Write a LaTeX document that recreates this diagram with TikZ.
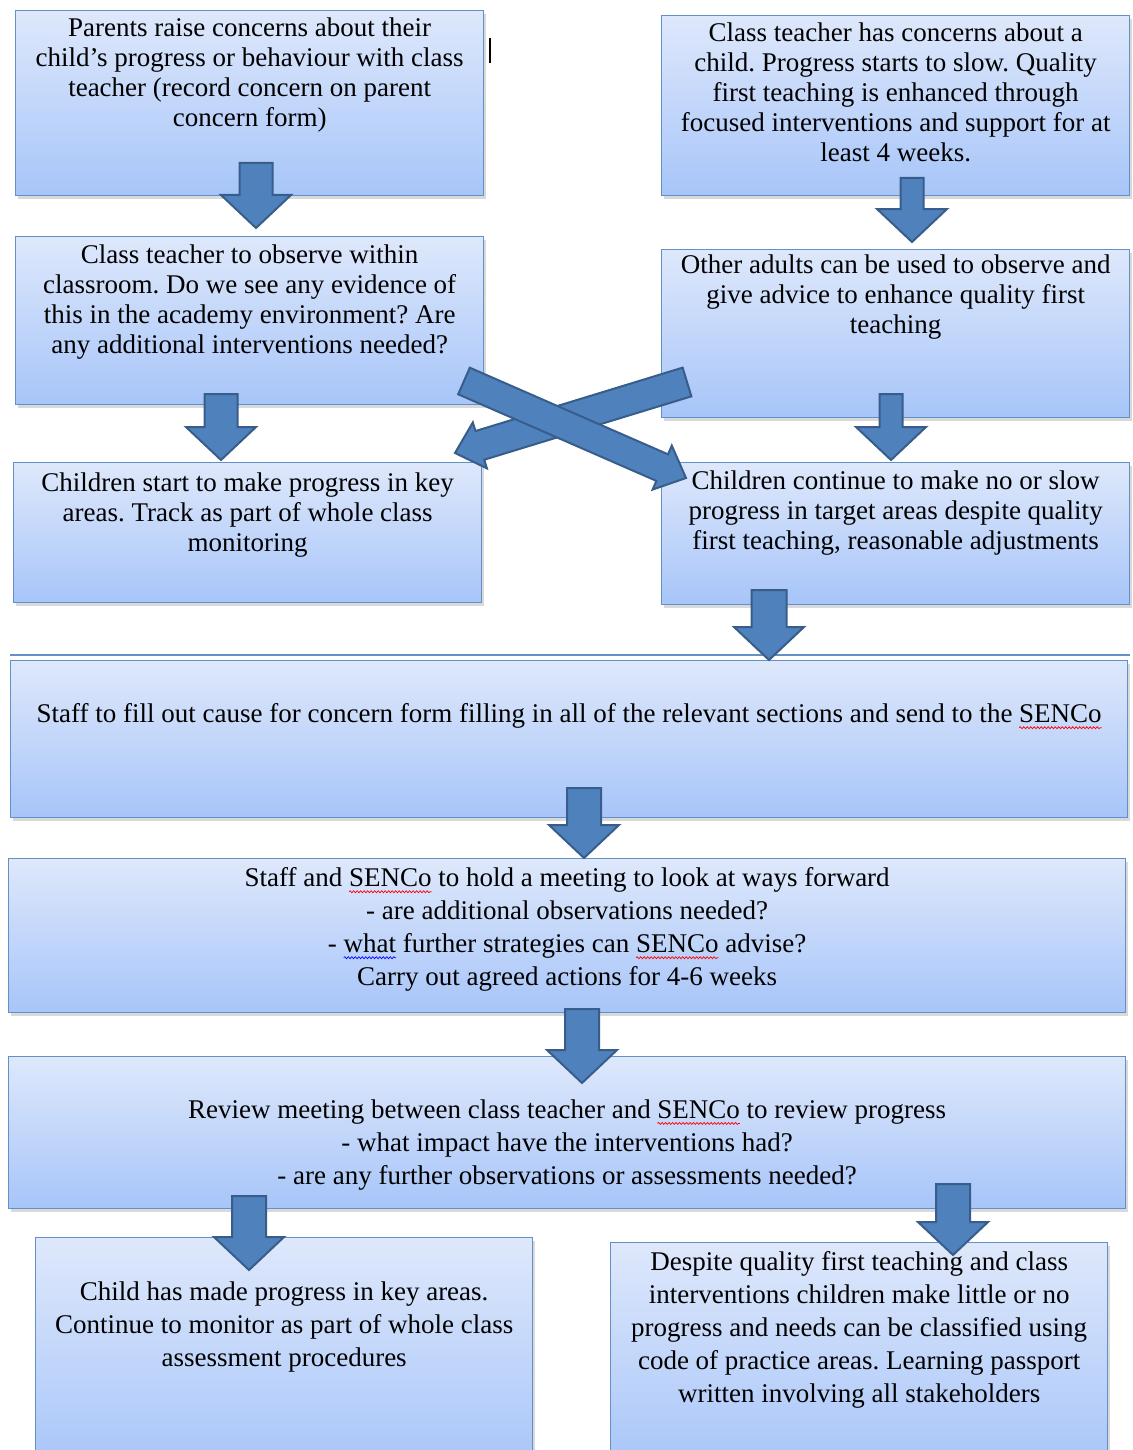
\documentclass[tikz,border=0pt]{standalone}
\usepackage{fontspec}
\setmainfont{Liberation Serif}
\usetikzlibrary{calc,positioning,shadows,decorations.pathmorphing}
\frenchspacing

\definecolor{boxtop}{HTML}{DEE8FB}
\definecolor{boxbot}{HTML}{A7C5F9}
\definecolor{boxedge}{HTML}{6490C8}
\definecolor{arrowfill}{HTML}{4F81BD}
\definecolor{arrowedge}{HTML}{385D8A}

% spell checker marks
\newcommand{\wavy}[2]{\setbox0\hbox{#2}\rlap{\tikz[overlay, baseline=0pt, x=1pt, y=1pt]
  \draw[#1, line width=0.7pt, decorate, decoration={snake, amplitude=1pt, segment length=3.5pt}]
  (0,-5) -- (\the\wd0,-5);}\box0\relax}
\newcommand{\redwave}[1]{\wavy{red}{#1}}
\newcommand{\bluewave}[1]{\wavy{blue}{#1}}

% block arrow: [shaft half width]{tail}{tip}
\newcommand{\headhalf}{35pt}
\newcommand{\headlen}{33pt}
\newcommand{\bigarrow}[3][17pt]{%
  \coordinate (hb) at ($(#3)!\headlen!(#2)$);
  \draw[blockarrow] ($(#2)!#1!90:(#3)$) -- ($(hb)!#1!-90:(#2)$)
    -- ($(hb)!\headhalf!-90:(#2)$) -- (#3) -- ($(hb)!\headhalf!90:(#2)$)
    -- ($(hb)!#1!90:(#2)$) -- ($(#2)!#1!-90:(#3)$) -- cycle;
}

\begin{document}
\begin{tikzpicture}[x=1pt, y=-1pt,
    box/.style = {draw=boxedge, line width=1.3pt, top color=boxtop, bottom color=boxbot,
                  drop shadow={shadow xshift=2pt, shadow yshift=-3pt, opacity=.3},
                  anchor=north west, inner sep=0pt},
    txt/.style = {align=center, inner sep=0pt, anchor=north, font=\fontsize{27}{30}\selectfont},
    txtb/.style = {txt, font=\fontsize{27}{33}\selectfont},
    blockarrow/.style = {fill=arrowfill, draw=arrowedge, line width=2pt, line join=miter}]
  \useasboundingbox (0,0) rectangle (1132,1450);

  \node[box, minimum width=468pt, minimum height=185pt] (parents) at (15,10) {};
  \node[box, minimum width=468pt, minimum height=180pt] (concern) at (661,15) {};
  \node[box, minimum width=468pt, minimum height=168pt] (observe) at (15,236) {};
  \node[box, minimum width=468pt, minimum height=168pt] (adults)  at (661,249) {};
  \node[box, minimum width=468pt, minimum height=140pt] (progress) at (13,462) {};
  \node[box, minimum width=468pt, minimum height=142pt] (slow)    at (661,462) {};
  \node[box, minimum width=1117pt, minimum height=157pt] (form)   at (10,660) {};
  \node[box, minimum width=1117pt, minimum height=154pt] (meeting) at (8,858) {};
  \node[box, minimum width=1117pt, minimum height=152pt] (review) at (8,1056) {};
  \node[box, minimum width=497pt, minimum height=233pt] (monitor) at (35,1237) {};
  \node[box, minimum width=497pt, minimum height=228pt] (passport) at (610,1242) {};

  \draw[boxedge, line width=1.3pt] (10,655) -- (1130,655);
  \draw[line width=1.5pt] (490,38) -- (490,63);

  \foreach \x/\ya/\yb/\w [count=\i] in {256/163/228/16.5, 912/178/242/11.5, 221/394/460/16.5,
      891/394/460/11.5, 769/590/660/17.5, 584/788/858/17, 582/1009/1083/17,
      249/1196/1270/17, 953/1184/1255/17} {
    \coordinate (a\i-s) at (\x,\ya);
    \coordinate (a\i-e) at (\x,\yb);
    \bigarrow[\w pt]{a\i-s}{a\i-e}
  }

  % crossing arrows
  \begin{scope}
    \renewcommand{\headhalf}{24pt}
    \renewcommand{\headlen}{26pt}
    \coordinate (x2-s) at (687,382);
    \coordinate (x2-e) at (455,453);
    \coordinate (x1-s) at (464,381);
    \coordinate (x1-e) at (686,478);
    \bigarrow[15pt]{x2-s}{x2-e}
    \bigarrow[14.5pt]{x1-s}{x1-e}
  \end{scope}

  \node[txt, below=7.5pt of parents.north] (parents-t)
    {Parents raise concerns about their\\child’s progress or behaviour with class\\teacher (record concern on parent\\concern form)};
  \node[txt, below=7.5pt of concern.north] (concern-t)
    {Class teacher has concerns about a\\child. Progress starts to slow. Quality\\first teaching is enhanced through\\focused interventions and support for at\\least 4 weeks.};
  \node[txt, below=8.5pt of observe.north] (observe-t)
    {Class teacher to observe within\\classroom. Do we see any evidence of\\this in the academy environment? Are\\any additional interventions needed?};
  \node[txt, below=5.5pt of adults.north] (adults-t)
    {Other adults can be used to observe and\\give advice to enhance quality first\\teaching};
  \node[txt, below=11pt of progress.north] (progress-t)
    {Children start to make progress in key\\areas. Track as part of whole class\\monitoring};
  \node[txt, below=8.5pt of slow.north] (slow-t)
    {Children continue to make no or slow\\progress in target areas despite quality\\first teaching, reasonable adjustments};
  \node[txt, below=43.5pt of form.north] (form-t)
    {Staff to fill out cause for concern form filling in all of the relevant sections and send to the \redwave{SENCo}};
  \node[txtb, below=9.5pt of meeting.north] (meeting-t)
    {Staff and \redwave{SENCo} to hold a meeting to look at ways forward\\- are additional observations needed?\\- \bluewave{what} further strategies can \redwave{SENCo} advise?\\Carry out agreed actions for 4-6 weeks};
  \node[txtb, below=43.5pt of review.north] (review-t)
    {Review meeting between class teacher and \redwave{SENCo} to review progress\\- what impact have the interventions had?\\- are any further observations or assessments needed?};
  \node[txtb, below=44.5pt of monitor.north] (monitor-t)
    {Child has made progress in key areas.\\Continue to monitor as part of whole class\\assessment procedures};
  \node[txtb, below=9.5pt of passport.north] (passport-t)
    {Despite quality first teaching and class\\interventions children make little or no\\progress and needs can be classified using\\code of practice areas. Learning passport\\written involving all stakeholders};
\end{tikzpicture}
\end{document}
